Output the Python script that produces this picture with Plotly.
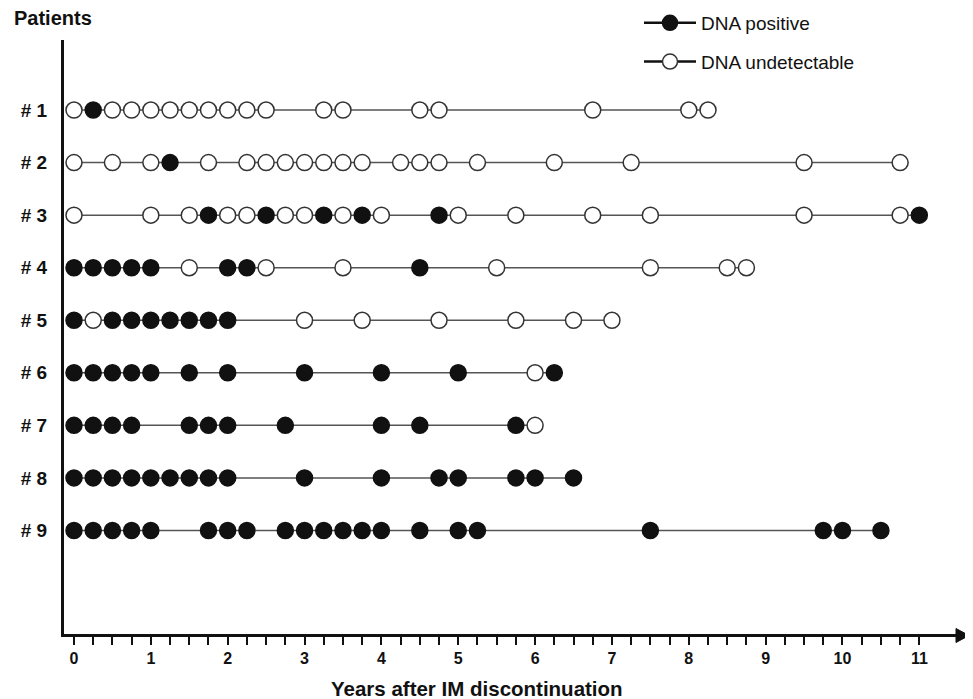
import plotly.graph_objects as go

# ---- data (years after IM discontinuation) ----
patients = ["# 1", "# 2", "# 3", "# 4", "# 5", "# 6", "# 7", "# 8", "# 9"]

p1_years = [0, 0.25, 0.5, 0.75, 1, 1.25, 1.5, 1.75, 2, 2.25, 2.5, 3.25, 3.5, 4.5, 4.75, 6.75, 8, 8.25]
p1_pos = [0, 1, 0, 0, 0, 0, 0, 0, 0, 0, 0, 0, 0, 0, 0, 0, 0, 0]

p2_years = [0, 0.5, 1, 1.25, 1.75, 2.25, 2.5, 2.75, 3, 3.25, 3.5, 3.75, 4.25, 4.5, 4.75, 5.25, 6.25, 7.25, 9.5, 10.75]
p2_pos = [0, 0, 0, 1, 0, 0, 0, 0, 0, 0, 0, 0, 0, 0, 0, 0, 0, 0, 0, 0]

p3_years = [0, 1, 1.5, 1.75, 2, 2.25, 2.5, 2.75, 3, 3.25, 3.5, 3.75, 4, 4.75, 5, 5.75, 6.75, 7.5, 9.5, 10.75, 11]
p3_pos = [0, 0, 0, 1, 0, 0, 1, 0, 0, 1, 0, 1, 0, 1, 0, 0, 0, 0, 0, 0, 1]

p4_years = [0, 0.25, 0.5, 0.75, 1, 1.5, 2, 2.25, 2.5, 3.5, 4.5, 5.5, 7.5, 8.5, 8.75]
p4_pos = [1, 1, 1, 1, 1, 0, 1, 1, 0, 0, 1, 0, 0, 0, 0]

p5_years = [0, 0.25, 0.5, 0.75, 1, 1.25, 1.5, 1.75, 2, 3, 3.75, 4.75, 5.75, 6.5, 7]
p5_pos = [1, 0, 1, 1, 1, 1, 1, 1, 1, 0, 0, 0, 0, 0, 0]

p6_years = [0, 0.25, 0.5, 0.75, 1, 1.5, 2, 3, 4, 5, 6, 6.25]
p6_pos = [1, 1, 1, 1, 1, 1, 1, 1, 1, 1, 0, 1]

p7_years = [0, 0.25, 0.5, 0.75, 1.5, 1.75, 2, 2.75, 4, 4.5, 5.75, 6]
p7_pos = [1, 1, 1, 1, 1, 1, 1, 1, 1, 1, 1, 0]

p8_years = [0, 0.25, 0.5, 0.75, 1, 1.25, 1.5, 1.75, 2, 3, 4, 4.75, 5, 5.75, 6, 6.5]
p8_pos = [1, 1, 1, 1, 1, 1, 1, 1, 1, 1, 1, 1, 1, 1, 1, 1]

p9_years = [0, 0.25, 0.5, 0.75, 1, 1.75, 2, 2.25, 2.75, 3, 3.25, 3.5, 3.75, 4, 4.5, 5, 5.25, 7.5, 9.75, 10, 10.5]
p9_pos = [1] * 21

all_years = [p1_years, p2_years, p3_years, p4_years, p5_years, p6_years, p7_years, p8_years, p9_years]
all_pos = [p1_pos, p2_pos, p3_pos, p4_pos, p5_pos, p6_pos, p7_pos, p8_pos, p9_pos]

x_ticks = list(range(0, 12))
x_tick_labels = [str(v) for v in x_ticks]
minor_ticks = [q / 4 for q in range(0, 45) if q % 4 != 0]

FILL = "#111111"
EDGE = "#333333"
LINE = "#555555"

# figure geometry (page body has an 8px margin)
W, H = 965, 691
L, R, T, B = 56, 15, 32, 65
PW, PH = W - L - R, H - T - B

fig = go.Figure()

for i, (xs, ps) in enumerate(zip(all_years, all_pos)):
    yv = i + 1
    fig.add_trace(go.Scatter(
        x=xs, y=[yv] * len(xs), mode="lines",
        line=dict(color=LINE, width=1.5), showlegend=False, hoverinfo="skip"))
    fig.add_trace(go.Scatter(
        x=xs, y=[yv] * len(xs), mode="markers",
        marker=dict(size=16, color=[FILL if p else "white" for p in ps],
                    line=dict(color=[FILL if p else EDGE for p in ps], width=1.5)),
        showlegend=False, name=patients[i]))

# legend entries
fig.add_trace(go.Scatter(x=[None], y=[None], mode="lines+markers", name="DNA positive",
                         legendgroup="a",
                         line=dict(color="#111111", width=2.5),
                         marker=dict(size=15, color=FILL, line=dict(color=FILL, width=1.5))))
fig.add_trace(go.Scatter(x=[None], y=[None], mode="lines+markers", name="DNA undetectable",
                         legendgroup="b",
                         line=dict(color="#111111", width=2.5),
                         marker=dict(size=15, color="white", line=dict(color=EDGE, width=1.5))))

fig.update_layout(
    width=W, height=H,
    margin=dict(l=L, r=R, t=T, b=B, autoexpand=False),
    plot_bgcolor="white", paper_bgcolor="white",
    font=dict(family="Liberation Sans, Arial, sans-serif", color="#111111"),
    legend=dict(x=(631 - L) / PW, y=1 + (T + 4) / PH, xanchor="left", yanchor="top",
                font=dict(size=19, family="Liberation Sans, Arial, sans-serif", color="#111111"),
                itemwidth=52,
                tracegroupgap=11, traceorder="grouped", bgcolor="rgba(0,0,0,0)"),
    xaxis=dict(range=[-0.130, 11.503], showgrid=False, zeroline=False, automargin=False,
               showline=True, linecolor="#111111", linewidth=3,
               tickvals=x_ticks, ticktext=x_tick_labels,
               ticks="outside", ticklen=8, tickwidth=2, tickcolor="#111111",
               minor=dict(tickvals=minor_ticks, ticks="outside", ticklen=8,
                          tickwidth=2, tickcolor="#111111"),
               tickfont=dict(size=16, family="Liberation Sans Narrow, Liberation Sans, Arial", color="#111111",
                             weight="bold")),
    yaxis=dict(range=[10.97, -0.333], showgrid=False, zeroline=False, automargin=False,
               showline=True, linecolor="#111111", linewidth=3,
               tickvals=list(range(1, 10)), ticktext=patients, ticks="",
               ticklabelstandoff=10,
               tickfont=dict(size=19, family="Liberation Sans, Arial", color="#111111", weight="bold")),
)

fig.add_annotation(text="<b>Patients</b>", xref="paper", yref="paper",
                   x=(4 - L) / PW, y=1 + (T - 10) / PH, xanchor="left", yanchor="middle",
                   showarrow=False, font=dict(size=20, color="#111111"))

fig.add_annotation(text="<b>Years after IM discontinuation</b>", xref="paper", yref="paper",
                   x=(469 - L) / PW, y=-(680 - (H - B)) / PH, xanchor="center", yanchor="middle",
                   showarrow=False, font=dict(size=20.5, color="#111111"))

# arrowhead at end of x axis
fig.add_shape(type="path", xref="paper", yref="paper",
              path=f"M {1 - 2 / PW} {-1.5 / PH + 7 / PH} L {1 + 11 / PW} {-1.5 / PH} L {1 - 2 / PW} {-1.5 / PH - 7 / PH} Z",
              fillcolor="#111111", line=dict(color="#111111", width=1))

fig.write_html("out.html")
